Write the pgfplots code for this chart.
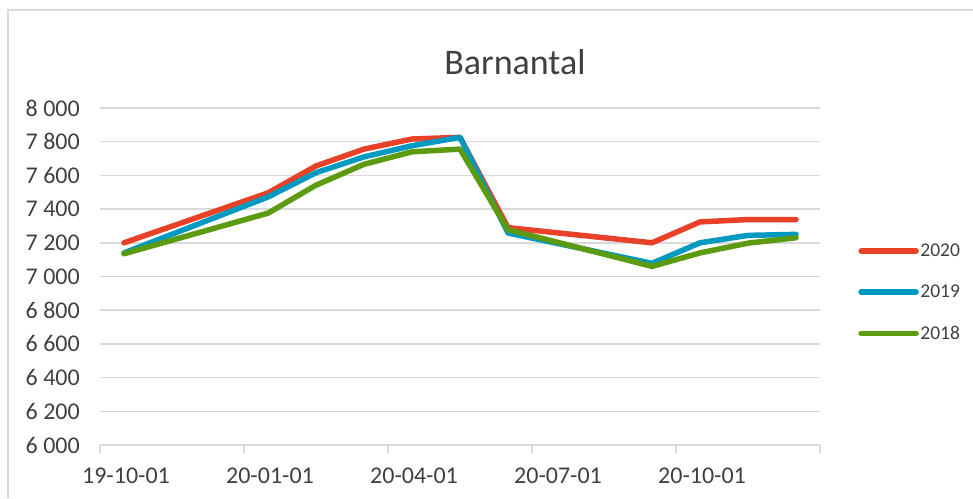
\documentclass[border=0pt]{standalone}
\usepackage{pgfplots}
\pgfplotsset{compat=1.18}
\usepackage{fontspec}
\setmainfont{Carlito}
\definecolor{cRed}{HTML}{E84127}
\definecolor{cBlue}{HTML}{0099C0}
\definecolor{cGreen}{HTML}{5C9A10}
\definecolor{cGrid}{HTML}{D9D9D9}
\definecolor{cText}{HTML}{404040}
\begin{document}
\begin{tikzpicture}
\path[use as bounding box] (0,0) rectangle (973pt,498pt);
\draw[cGrid, line width=1.5pt] (8pt,0pt) -- (8pt,488pt) -- (973pt,488pt);
\node[anchor=base, text=cText, font=\fontsize{36pt}{40pt}\selectfont, inner sep=0pt] at (515pt,423pt) {Barnantal};
\begin{axis}[
  at={(100pt,53pt)}, anchor=south west,
  scale only axis, width=720pt, height=337pt,
  xmin=-0.5, xmax=14.5, ymin=6000, ymax=8000,
  axis x line*=bottom, axis y line*=left,
  y axis line style={draw=none},
  x axis line style={draw=cGrid, line width=1.5pt, -},
  ytick={6000,6200,...,8000},
  yticklabels={6 000,6 200,6 400,6 600,6 800,7 000,7 200,7 400,7 600,7 800,8 000},
  ymajorgrids, grid style={draw=cGrid, line width=1.5pt},
  ytick style={draw=none},
  tick align=inside,
  yticklabel style={font=\fontsize{24pt}{28pt}\selectfont, text=cText, anchor=east, inner sep=0pt, xshift=-20pt},
  xtick={0,3,6,9,12},
  xticklabels={19-10-01,20-01-01,20-04-01,20-07-01,20-10-01},
  xtick style={draw=none},
  xticklabel style={font=\fontsize{24pt}{28pt}\selectfont, text=cText, anchor=north, inner sep=0pt, yshift=-23pt, xshift=2pt},
  extra x ticks={-0.5,2.5,5.5,8.5,11.5,14.5},
  extra x tick labels={},
  extra x tick style={xtick style={draw=cGrid, line width=1.5pt}, major tick length=8pt, tick align=outside, xmajorgrids=false},
  clip=false,
  legend style={at={(1.053,0.4525)}, anchor=west, draw=none, fill=none, font=\fontsize{19.5pt}{22pt}\selectfont, text=cText, row sep=24pt, inner sep=0pt, nodes={inner sep=1.5pt}},
  legend cell align=left,
  legend image code/.code={\draw[#1, line cap=round] (0pt,0pt) -- (55pt,0pt);},
  every axis plot/.append style={line width=5.5pt, line cap=round, line join=round},
]
\addplot[cRed] coordinates {(0,7200) (3,7496) (4,7656) (5,7756) (6,7816) (7,7826) (8,7290) (11,7200) (12,7324) (13,7338) (14,7338)};
\addlegendentry{2020}
\addplot[cBlue] coordinates {(0,7140) (3,7472) (4,7616) (5,7710) (6,7776) (7,7826) (8,7258) (11,7078) (12,7200) (13,7244) (14,7250)};
\addlegendentry{2019}
\addplot[cGreen] coordinates {(0,7135) (3,7376) (4,7542) (5,7666) (6,7740) (7,7756) (8,7278) (11,7060) (12,7140) (13,7198) (14,7230)};
\addlegendentry{2018}
\end{axis}
\end{tikzpicture}
\end{document}
